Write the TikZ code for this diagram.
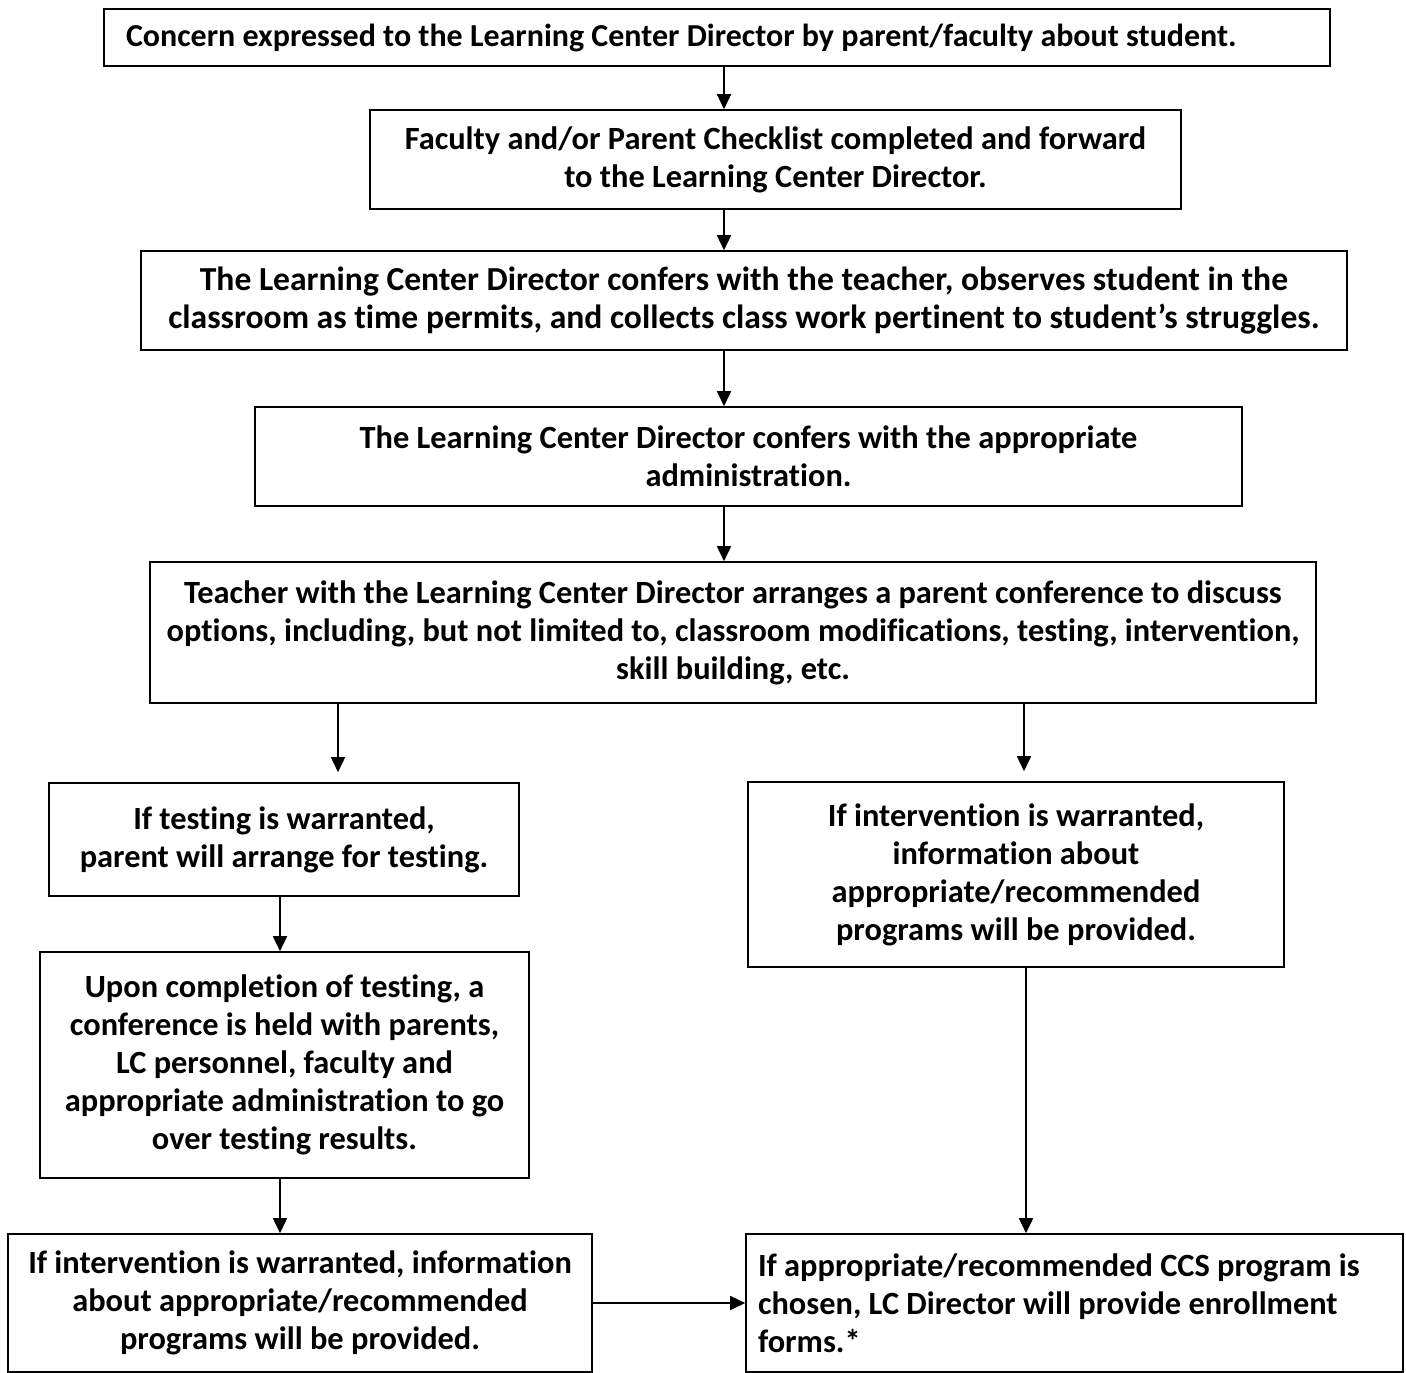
\documentclass[tikz,border=0pt]{standalone}
\usepackage{fontspec}
\setmainfont{Carlito}[Ligatures=NoCommon]
\usetikzlibrary{arrows.meta}

\tikzset{
    box/.style={draw, line width=.8pt, align=flush center, inner sep=0pt,
        font=\bfseries\fontsize{16.2}{19}\selectfont},
    arr/.style={line width=.8pt, -{Triangle[length=7.5pt,width=7pt]}},
}

\begin{document}
\begin{tikzpicture}[x=.5pt, y=-.5pt]
    \useasboundingbox (0,0) rectangle (1406,1372);
    % Kaesten oben
    \node[box, font=\bfseries\fontsize{16}{19}\selectfont, align=flush left, inner xsep=11pt, text width=591pt,
        minimum height=28.5pt] (concern) at (717,37.5)
        {Concern expressed to the Learning Center Director by parent/faculty about student.};
    \node[box, minimum width=405.5pt, minimum height=49.5pt] (checklist) at (775.5,159.5)
        {Faculty and/or Parent Checklist completed and forward\\ to the Learning Center Director.};
    \node[box, font=\bfseries\fontsize{16.8}{19}\selectfont, minimum width=603pt, minimum height=49.5pt] (confer) at (744,300.5)
        {The Learning Center Director confers with the teacher, observes student in the\\
        classroom as time permits, and collects class work pertinent to student’s struggles.};
    \node[box, minimum width=493.5pt, minimum height=49.5pt] (admin) at (748.5,456.5)
        {The Learning Center Director confers with the appropriate\\ administration.};
    \node[box, minimum width=583pt, minimum height=70.5pt] (meeting) at (733,632.5)
        {Teacher with the Learning Center Director arranges a parent conference to discuss\\
        options, including, but not limited to, classroom modifications, testing, intervention,\\
        skill building, etc.};
    % linker Zweig
    \node[box, minimum width=235pt, minimum height=56.5pt] (testing) at (284,839.5)
        {If testing is warranted,\\ parent will arrange for testing.};
    \node[box, minimum width=244.5pt, minimum height=113pt] (results) at (284.5,1065)
        {Upon completion of testing, a\\ conference is held with parents,\\ LC personnel, faculty and\\
        appropriate administration to go\\ over testing results.};
    \node[box, minimum width=292pt, minimum height=69pt] (infoleft) at (300,1303)
        {If intervention is warranted, information\\ about appropriate/recommended\\ programs will be provided.};
    % rechter Zweig
    \node[box, minimum width=268pt, minimum height=92.5pt] (inforight) at (1016,874.5)
        {If intervention is warranted,\\ information about\\ appropriate/recommended\\ programs will be provided.};
    \node[box, align=flush left, inner xsep=6pt, text width=316.5pt, minimum height=69pt] (enroll) at (1074.5,1303)
        {If appropriate/recommended CCS program is\\ chosen, LC Director will provide enrollment\\ forms.*};
    % Hilfspunkte fuer die Pfeile
    \coordinate (main) at (724,0);
    \coordinate (leftdrop) at (338,0);
    \coordinate (rightdrop) at (1024,0);
    \coordinate (leftline) at (280,0);
    \coordinate (rightline) at (1026,0);
    % Pfeile
    \draw[arr] (concern.south -| main) -- (checklist.north -| main);
    \draw[arr] (checklist.south -| main) -- (confer.north -| main);
    \draw[arr] (confer.south -| main) -- (admin.north -| main);
    \draw[arr] (admin.south -| main) -- (meeting.north -| main);
    \draw[arr, shorten >=5pt] (meeting.south -| leftdrop) -- (testing.north -| leftdrop);
    \draw[arr, shorten >=5pt] (meeting.south -| rightdrop) -- (inforight.north -| rightdrop);
    \draw[arr] (testing.south -| leftline) -- (results.north -| leftline);
    \draw[arr] (results.south -| leftline) -- (infoleft.north -| leftline);
    \draw[arr] (inforight.south -| rightline) -- (enroll.north -| rightline);
    \draw[arr] (infoleft) -- (enroll);
\end{tikzpicture}
\end{document}
